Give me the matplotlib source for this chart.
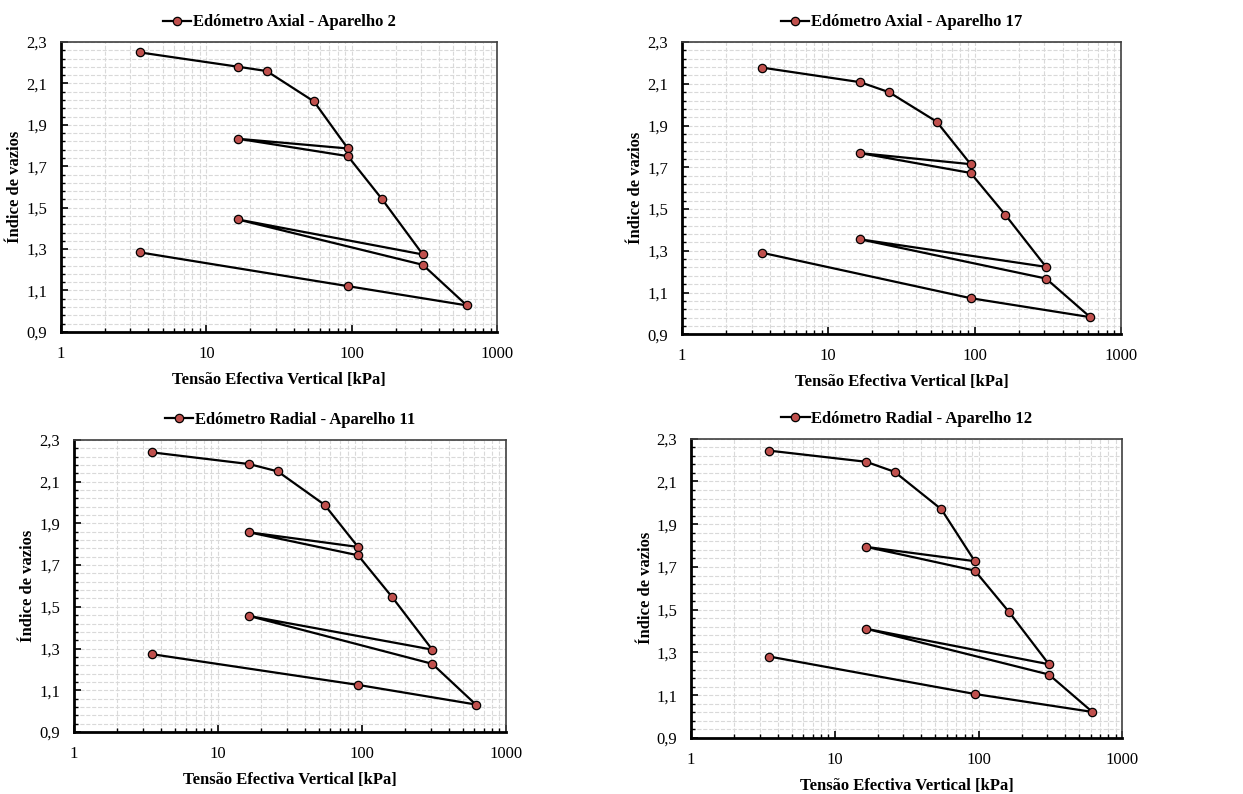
import numpy as np
import matplotlib
matplotlib.use('Agg')
import matplotlib.pyplot as plt
from matplotlib.ticker import FixedLocator, FuncFormatter, LogLocator, NullFormatter

plt.rcParams['font.family'] = ['Liberation Serif', 'DejaVu Serif']

# load path order: load, unload/reload loops, final unload
stress = [3.5, 16.5, 26, 55, 94, 16.5, 94, 162, 308, 16.5, 308, 618, 94, 3.5]

e_ax2 = [2.250, 2.181, 2.160, 2.013, 1.786, 1.833, 1.749, 1.540, 1.274, 1.443, 1.224, 1.028, 1.121, 1.284]
e_ax17 = [2.178, 2.108, 2.060, 1.919, 1.715, 1.768, 1.673, 1.473, 1.223, 1.355, 1.167, 0.982, 1.073, 1.291]
e_rad11 = [2.240, 2.184, 2.149, 1.989, 1.787, 1.857, 1.747, 1.547, 1.295, 1.456, 1.227, 1.032, 1.126, 1.273]
e_rad12 = [2.244, 2.192, 2.145, 1.970, 1.727, 1.794, 1.683, 1.491, 1.245, 1.411, 1.197, 1.022, 1.106, 1.281]

titles = ['Edómetro Axial - Aparelho 2', 'Edómetro Axial - Aparelho 17',
          'Edómetro Radial - Aparelho 11', 'Edómetro Radial - Aparelho 12']
series = [e_ax2, e_ax17, e_rad11, e_rad12]

# axes boxes in figure fraction
boxes = [
    [0.049, 0.582, 0.351, 0.365],
    [0.5487, 0.579, 0.353, 0.368],
    [0.0595, 0.078, 0.3475, 0.368],
    [0.556, 0.0705, 0.347, 0.377],
]

fig = plt.figure(figsize=(12.43, 7.94), dpi=100)

for box, e, title in zip(boxes, series, titles):
    ax = fig.add_axes(box)
    ax.set_xscale('log')
    ax.plot(stress, e, color='black', lw=1.6, marker='o', ms=6,
            mfc='#c0504d', mec='black', mew=0.9, label=title)
    ax.set_xlim(1, 1000)
    ax.set_ylim(0.9, 2.3)

    ax.yaxis.set_major_locator(FixedLocator(np.round(np.arange(0.9, 2.31, 0.2), 2)))
    ax.yaxis.set_minor_locator(FixedLocator(np.round(np.arange(0.9, 2.3, 0.04), 2)))
    ax.yaxis.set_major_formatter(FuncFormatter(lambda v, p: f'{v:.1f}'.replace('.', ',')))
    ax.xaxis.set_major_locator(FixedLocator([1, 10, 100, 1000]))
    ax.xaxis.set_major_formatter(FuncFormatter(lambda v, p: f'{v:g}'))
    ax.xaxis.set_minor_locator(LogLocator(base=10, subs=np.arange(2, 10)))
    ax.xaxis.set_minor_formatter(NullFormatter())

    ax.grid(True, which='both', color='#d9d9d9', ls='--', lw=0.8)
    ax.set_axisbelow(True)

    ax.tick_params(which='major', direction='in', length=5, width=1.2, labelsize=12, pad=10)
    ax.tick_params(which='minor', direction='in', length=3, width=1.0)

    for s in ['left', 'bottom']:
        ax.spines[s].set_linewidth(2)
        ax.spines[s].set_color('black')
    for s in ['top', 'right']:
        ax.spines[s].set_linewidth(1.2)
        ax.spines[s].set_color('#404040')

    ax.set_xlabel('Tensão Efectiva Vertical [kPa]', fontsize=12, fontweight='bold', labelpad=7)
    ax.set_ylabel('Índice de vazios', fontsize=12, fontweight='bold', labelpad=2)
    ax.legend(loc='lower center', bbox_to_anchor=(0.5, 1.0), frameon=False,
              prop={'weight': 'bold', 'size': 12}, handlelength=1.7, handletextpad=0.1,
              borderaxespad=0.3)

plt.savefig('out.png', dpi=100)
